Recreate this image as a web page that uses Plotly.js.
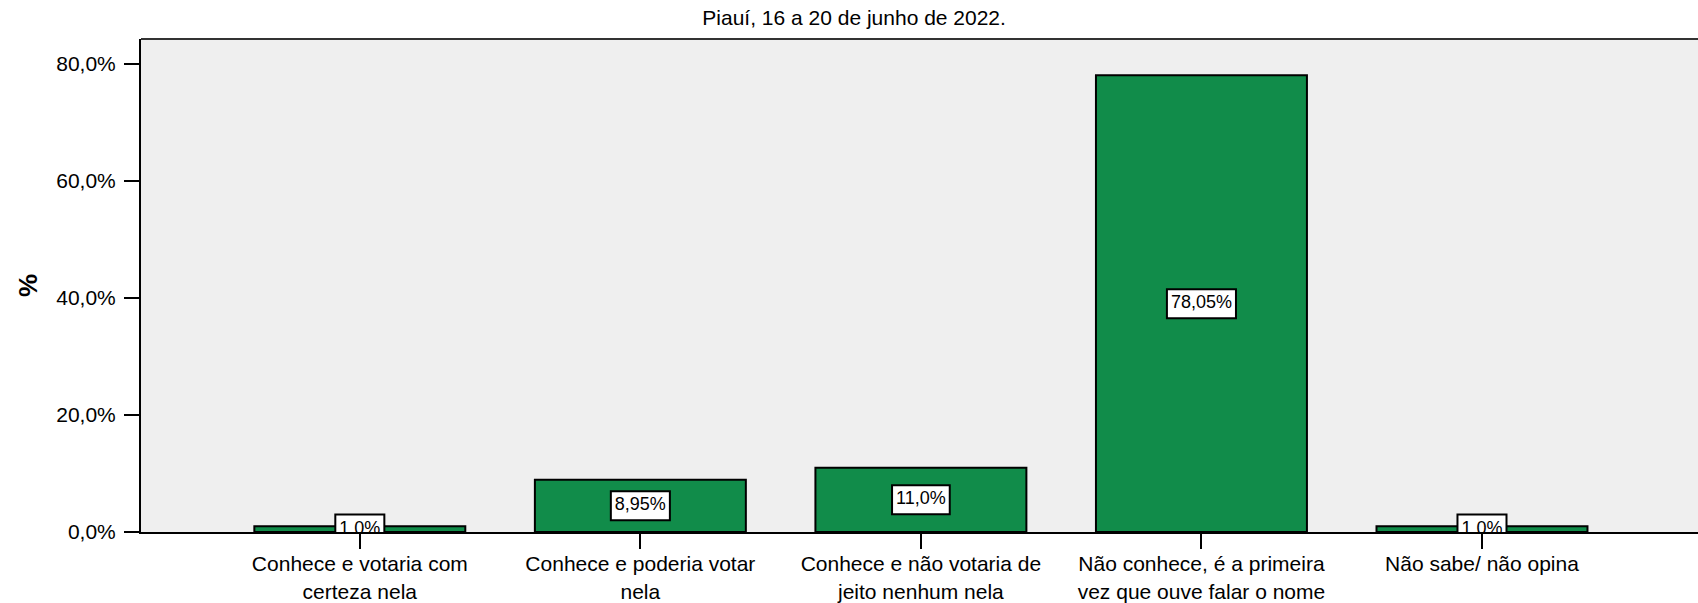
<!DOCTYPE html>
<html>
<head>
<meta charset="utf-8">
<script src="https://cdn.plot.ly/plotly-3.0.1.min.js"></script>
<style>html,body{margin:0;padding:0;background:#fff;}#chart{width:1698px;height:603px;}</style>
</head>
<body>
<div id="chart"></div>
<script>
// ---- data ----
const categories = [
  "Conhece e votaria com<br>certeza nela",
  "Conhece e poderia votar<br>nela",
  "Conhece e não votaria de<br>jeito nenhum nela",
  "Não conhece, é a primeira<br>vez que ouve falar o nome",
  "Não sabe/ não opina"
];
const values = [1.0, 8.95, 11.0, 78.05, 1.0];
const valueLabels = ["1,0%", "8,95%", "11,0%", "78,05%", "1,0%"];
const yTickVals = [0, 20, 40, 60, 80];
const yTickText = ["0,0%", "20,0%", "40,0%", "60,0%", "80,0%"];
const chartTitle = "Piauí, 16 a 20 de junho de 2022.";
const yTitle = "%";

// ---- layout constants ----
const W = 1698, H = 603;
const margin = {l: 141, r: 0, t: 39, b: 71};
const xRange = [-0.78, 4.77];
const yRange = [0, 84.25];
const FONT = "'Liberation Sans', Arial, sans-serif";
const labelFontSize = 18;

const plotW = W - margin.l - margin.r;
const plotH = H - margin.t - margin.b;
const pxPerX = plotW / (xRange[1] - xRange[0]);
const pxPerY = plotH / (yRange[1] - yRange[0]);

// measure label widths to size the white boxes
const ctx = document.createElement('canvas').getContext('2d');
ctx.font = labelFontSize + "px " + FONT;
const boxW = valueLabels.map(t => (ctx.measureText(t).width + 8) / pxPerX);
const boxHpx = 29;
const boxH = boxHpx / pxPerY;
const mids = values.map(v => v / 2);

const bars = {
  type: 'bar', x: categories, y: values, width: 0.752,
  marker: {color: '#118C4A', line: {color: '#000', width: 2}},
  hoverinfo: 'skip', showlegend: false
};
const boxes = {
  type: 'bar', x: categories, y: mids.map(() => boxH),
  base: mids.map(m => m - boxH / 2), width: boxW,
  marker: {color: '#fff', line: {color: '#000', width: 2}},
  hoverinfo: 'skip', showlegend: false
};
const texts = {
  type: 'scatter', mode: 'text', x: categories, y: mids, text: valueLabels,
  textposition: 'middle center', cliponaxis: true,
  textfont: {family: FONT, size: labelFontSize, color: '#000'},
  hoverinfo: 'skip', showlegend: false
};

const layout = {
  width: W, height: H, margin: margin,
  paper_bgcolor: '#fff', plot_bgcolor: '#EFEFEF',
  barmode: 'overlay',
  font: {family: FONT, size: 21, color: '#000'},
  title: {text: chartTitle, font: {family: FONT, size: 21, color: '#000'},
          xref: 'container', x: 0.503, xanchor: 'center',
          yref: 'container', y: 0.970, yanchor: 'middle'},
  xaxis: {type: 'category', range: xRange, showgrid: false, zeroline: false,
          showline: true, linecolor: '#000', linewidth: 2,
          ticks: 'outside', ticklen: 15, tickwidth: 2, tickcolor: '#000',
          ticklabelstandoff: -3,
          tickfont: {family: FONT, size: 21, color: '#000'}, fixedrange: true},
  yaxis: {range: yRange, showgrid: false, zeroline: false,
          showline: true, linecolor: '#000', linewidth: 2,
          ticks: 'outside', ticklen: 15, tickwidth: 2, tickcolor: '#000',
          tickvals: yTickVals, ticktext: yTickText, ticklabelstandoff: 4,
          tickfont: {family: FONT, size: 21, color: '#000'},
          title: {text: '<b>' + yTitle + '</b>', font: {family: FONT, size: 26, color: '#000'}, standoff: 11},
          fixedrange: true},
  shapes: [{type: 'line', xref: 'paper', yref: 'paper', x0: 0, x1: 1, y0: 1, y1: 1,
            line: {color: '#333', width: 2}}]
};

Plotly.newPlot('chart', [bars, boxes, texts], layout, {staticPlot: true, displayModeBar: false});
</script>
</body>
</html>
